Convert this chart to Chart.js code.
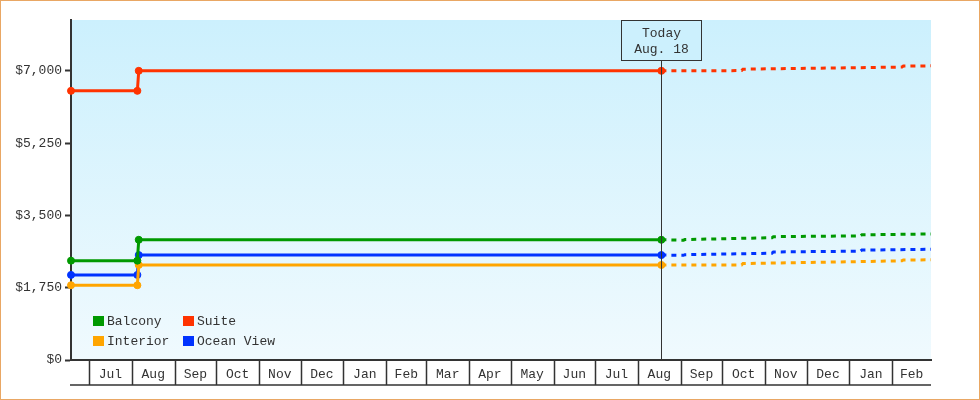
<!DOCTYPE html>
<html><head><meta charset="utf-8">
<script src="https://cdn.jsdelivr.net/npm/chart.js@4"></script>
<style>html,body{margin:0;padding:0;background:#fff;}canvas{display:block;}</style>
</head><body>
<canvas id="c" width="980" height="400"></canvas>
<script>
const seriesNames = ['Balcony', 'Suite', 'Interior', 'Ocean View'];
const seriesColors = ['#009900', '#ff3300', '#ffa500', '#0033ff'];
const historyDates = ['2023-06-18', '2023-08-05', '2023-08-06', '2024-08-18'];
const balconyHistory = [2405, 2405, 2910, 2910];
const suiteHistory = [6515, 6515, 7000, 7000];
const interiorHistory = [1810, 1810, 2300, 2300];
const oceanViewHistory = [2060, 2060, 2540, 2540];
const forecastDatesA = ['2024-08-18', '2024-09-03', '2024-09-04', '2024-11-06', '2024-11-07', '2025-01-09', '2025-01-10', '2025-03-01'];
const balconyForecast = [2910, 2900, 2915, 2960, 2985, 3005, 3030, 3050];
const oceanViewForecast = [2540, 2535, 2550, 2585, 2615, 2635, 2660, 2680];
const forecastDatesB = ['2024-08-18', '2024-10-15', '2024-10-16', '2025-02-08', '2025-02-09', '2025-03-01'];
const suiteForecast = [7000, 7005, 7040, 7090, 7115, 7120];
const interiorForecast = [2300, 2300, 2335, 2400, 2420, 2425];
const todayDate = '2024-08-18';
const todayLabel = ['Today', 'Aug. 18'];
const xRange = ['2023-06-18', '2025-03-01'];
const monthStarts = ['2023-07-01','2023-08-01','2023-09-01','2023-10-01','2023-11-01','2023-12-01','2024-01-01','2024-02-01','2024-03-01','2024-04-01','2024-05-01','2024-06-01','2024-07-01','2024-08-01','2024-09-01','2024-10-01','2024-11-01','2024-12-01','2025-01-01','2025-02-01'];
const monthLabels = ['Jul','Aug','Sep','Oct','Nov','Dec','Jan','Feb','Mar','Apr','May','Jun','Jul','Aug','Sep','Oct','Nov','Dec','Jan','Feb'];
const yTicks = [0, 1750, 3500, 5250, 7000];
const yMax = 8230;

const day = s => Date.parse(s + 'T00:00:00Z') / 864e5;
const pts = (dates, vals) => dates.map((d, i) => ({ x: day(d), y: vals[i] }));
const ink = '#333333';
const FONT = "'Liberation Mono', 'DejaVu Sans Mono', monospace";

Chart.defaults.font.family = FONT;
Chart.defaults.font.size = 13;
Chart.defaults.color = ink;

const histSets = [balconyHistory, suiteHistory, interiorHistory, oceanViewHistory];
const fcSets = [
  pts(forecastDatesA, balconyForecast),
  pts(forecastDatesB, suiteForecast),
  pts(forecastDatesB, interiorForecast),
  pts(forecastDatesA, oceanViewForecast)
];

const datasets = [];
seriesNames.forEach((n, i) => {
  datasets.push({
    label: n, data: pts(historyDates, histSets[i]),
    borderColor: seriesColors[i], backgroundColor: seriesColors[i],
    borderWidth: 3, pointRadius: 3.5, pointBorderWidth: 1,
    pointBackgroundColor: seriesColors[i], pointBorderColor: seriesColors[i],
    tension: 0, fill: false, clip: false
  });
});
seriesNames.forEach((n, i) => {
  datasets.push({
    label: n + ' forecast', data: fcSets[i],
    borderColor: seriesColors[i], backgroundColor: seriesColors[i],
    borderWidth: 3, borderDash: [5, 5], pointRadius: 0,
    tension: 0, fill: false
  });
});

const bgPlugin = {
  id: 'bg',
  beforeDraw(chart) {
    const { ctx, chartArea: a } = chart;
    const g = ctx.createLinearGradient(0, a.top, 0, a.bottom);
    g.addColorStop(0, '#ccf0fd');
    g.addColorStop(1, '#f0fafe');
    ctx.save();
    ctx.fillStyle = g;
    ctx.fillRect(a.left, a.top, a.right - a.left, a.bottom - a.top);
    ctx.restore();
  },
  afterDraw(chart) {
    const { ctx, chartArea: a, scales } = chart;
    const xs = scales.x;
    ctx.save();
    ctx.strokeStyle = ink;
    ctx.lineWidth = 1.5;
    const yb = a.bottom + 25;
    ctx.beginPath();
    ctx.moveTo(a.left - 1, yb);
    ctx.lineTo(a.right, yb);
    monthStarts.forEach(s => {
      const px = Math.round(xs.getPixelForValue(day(s))) + 0.5;
      ctx.moveTo(px, a.bottom);
      ctx.lineTo(px, yb);
    });
    ctx.stroke();

    const tx = Math.round(xs.getPixelForValue(day(todayDate))) + 0.5;
    const bw = 80, bh = 40;
    ctx.lineWidth = 1;
    ctx.beginPath();
    ctx.moveTo(tx, a.top + bh);
    ctx.lineTo(tx, a.bottom);
    ctx.stroke();
    ctx.fillStyle = '#ccf0fd';
    ctx.fillRect(tx - bw / 2, a.top, bw, bh);
    ctx.strokeRect(tx - bw / 2, a.top + 0.5, bw, bh);
    ctx.fillStyle = ink;
    ctx.font = '13px ' + FONT;
    ctx.textAlign = 'center';
    ctx.textBaseline = 'middle';
    ctx.fillText(todayLabel[0], tx, a.top + 13.5);
    ctx.fillText(todayLabel[1], tx, a.top + 30);

    ctx.textAlign = 'left';
    const cols = [a.left + 22, a.left + 112];
    const rows = [a.bottom - 44, a.bottom - 24];
    for (let i = 0; i < 4; i++) {
      const ds = chart.data.datasets[i];
      const bx = cols[i % 2], by = rows[Math.floor(i / 2)];
      ctx.fillStyle = ds.borderColor;
      ctx.fillRect(bx, by, 11, 10);
      ctx.fillStyle = ink;
      ctx.fillText(ds.label, bx + 14, by + 5.5);
    }

    ctx.strokeStyle = '#e9a764';
    ctx.lineWidth = 1;
    ctx.strokeRect(0.5, 0.5, chart.width - 1, chart.height - 1);
    ctx.restore();
  }
};

new Chart(document.getElementById('c'), {
  type: 'line',
  data: { datasets },
  options: {
    responsive: false,
    animation: false,
    devicePixelRatio: 1,
    layout: { padding: { left: 0, right: 49, top: 20, bottom: 0 } },
    plugins: { legend: { display: false }, tooltip: { enabled: false } },
    scales: {
      x: {
        type: 'linear',
        min: day(xRange[0]), max: day(xRange[1]),
        afterFit(s) { s.height = 40; },
        afterBuildTicks(s) {
          s.ticks = monthStarts.map((m, i) => {
            const end = i + 1 < monthStarts.length ? monthStarts[i + 1] : xRange[1];
            return { value: (day(m) + day(end)) / 2 };
          });
        },
        ticks: {
          autoSkip: false, maxRotation: 0, minRotation: 0, padding: 7,
          callback: (v, i) => monthLabels[i]
        },
        grid: { display: false, drawTicks: false },
        border: { display: true, color: ink, width: 2 }
      },
      y: {
        min: 0, max: yMax,
        afterFit(s) { s.width = 71; },
        afterBuildTicks(s) { s.ticks = yTicks.map(v => ({ value: v })); },
        ticks: {
          padding: 3,
          callback: v => '$' + v.toLocaleString('en-US')
        },
        grid: { drawOnChartArea: false, drawTicks: true, tickLength: 6, tickColor: ink, tickWidth: 2 },
        border: { display: true, color: ink, width: 2 }
      }
    }
  },
  plugins: [bgPlugin]
});
</script>
</body></html>
